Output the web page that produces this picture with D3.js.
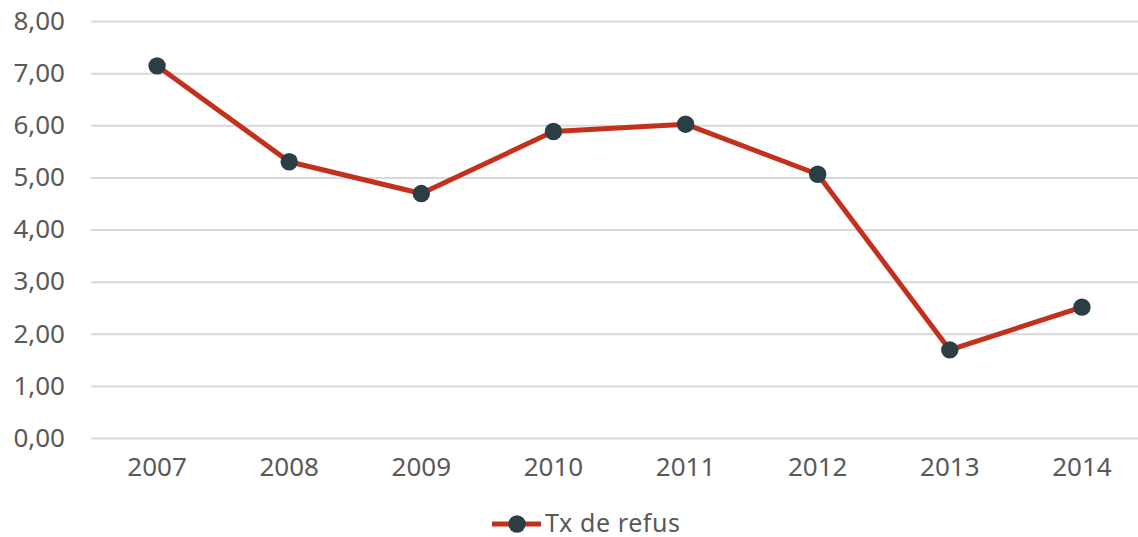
<!DOCTYPE html>
<html>
<head>
<meta charset="utf-8">
<script src="https://cdn.jsdelivr.net/npm/d3@7"></script>
<style>
  body { margin: 0; background: #fff; }
  svg { display: block; }
  svg text { font-family: "Noto Sans", "Open Sans", sans-serif; }
</style>
</head>
<body>
<svg id="chart" width="1138" height="537"></svg>
<script>
const years = ["2007", "2008", "2009", "2010", "2011", "2012", "2013", "2014"]
const refus = [7.14, 5.30, 4.69, 5.88, 6.02, 5.06, 1.69, 2.51]
const yTicks = [0, 1, 2, 3, 4, 5, 6, 7, 8]
const seriesName = "Tx de refus"

const conf = {
    left: 91, right: 1148, top: 21, bottom: 438,
    lineColor: "#c3311d", markerColor: "#2b3d45", textColor: "#595959", gridColor: "#d9d9d9",
    fontSize: "26px"
}

let svg = d3.select("svg#chart")

let x = d3.scaleBand().domain(years).range([conf.left, conf.right])
let y = d3.scaleLinear().domain([0, 8]).range([conf.bottom, conf.top])
let fmt = v => d3.format(".2f")(v).replace(".", ",")

// grid + y labels
let yAxis = d3.axisLeft(y)
    .tickValues(yTicks)
    .tickFormat(fmt)
    .tickSize(-(conf.right - conf.left))
    .tickPadding(26)
let gy = svg.append("g")
    .attr("class", "y axis")
    .attr("transform", "translate(" + conf.left + ",0)")
    .call(yAxis)
gy.select(".domain").remove()
gy.selectAll("line").attr("stroke", conf.gridColor).attr("stroke-width", 2)
gy.selectAll("text")
    .attr("fill", conf.textColor)
    .style("font-size", conf.fontSize)

// x labels
let xAxis = d3.axisBottom(x).tickSize(0).tickPadding(20)
let gx = svg.append("g")
    .attr("class", "x axis")
    .attr("transform", "translate(0," + conf.bottom + ")")
    .call(xAxis)
gx.select(".domain").remove()
gx.selectAll("text")
    .attr("fill", conf.textColor)
    .style("font-size", conf.fontSize)

let cx = d => x(d) + x.bandwidth() / 2
let data = years.map((yr, i) => ({year: yr, value: refus[i]}))

let line = d3.line()
    .x(d => cx(d.year))
    .y(d => y(d.value))

svg.append("path")
    .datum(data)
    .attr("fill", "none")
    .attr("stroke", conf.lineColor)
    .attr("stroke-width", 5)
    .attr("stroke-linejoin", "round")
    .attr("d", line)

svg.append("g")
    .selectAll("circle")
    .data(data)
    .join("circle")
    .attr("cx", d => cx(d.year))
    .attr("cy", d => y(d.value))
    .attr("r", 8.7)
    .attr("fill", conf.markerColor)

// legend
let lg = svg.append("g").attr("transform", "translate(492,524)")
lg.append("line")
    .attr("x1", 0).attr("x2", 49)
    .attr("stroke", conf.lineColor)
    .attr("stroke-width", 5)
lg.append("circle").attr("cx", 25).attr("r", 8.7).attr("fill", conf.markerColor)
lg.append("text")
    .attr("x", 53)
    .attr("dy", "0.3em")
    .attr("fill", conf.textColor)
    .style("font-size", "25px")
    .style("letter-spacing", "0.6px")
    .text(seriesName)
</script>
</body>
</html>
